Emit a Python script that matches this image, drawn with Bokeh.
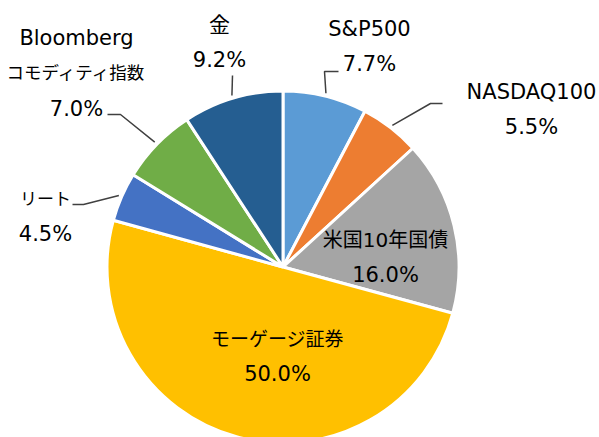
import math
from bokeh.plotting import figure
from bokeh.models import Range1d, ColumnDataSource
from bokeh.core.properties import value
from bokeh.embed import file_html
from bokeh.resources import INLINE

# ---- data (clockwise from 12 o'clock) ----
categories = ["S&P500", "NASDAQ100", "米国10年国債", "モーゲージ証券", "リート", "Bloomberg コモディティ指数", "金"]
name_lines = [["S&P500"], ["NASDAQ100"], ["米国10年国債"], ["モーゲージ証券"], ["リート"], ["Bloomberg", "コモディティ指数"], ["金"]]
shares = [7.7, 5.5, 16.0, 50.0, 4.5, 7.0, 9.2]
colors = ["#5B9BD5", "#ED7D31", "#A5A5A5", "#FFC000", "#4472C4", "#70AD47", "#255E91"]

# ---- layout (page pixels; converted to offsets from the pie centre, y up) ----
CX, CY = 282.5, 266.5          # pie centre in page pixels
R = 176
W, H = 599, 437
def px(X):
    return X - CX
def py(Y):
    return CY - Y

# label block: centre x, y of first line (page px)
label_pos = [(369, 28), (531, 91), (385, 239), (277, 338), (45, 198), (76, 37), (219, 24)]
# font size for each name line
name_sizes = [["21px"], ["21px"], ["20px"], ["19px"], ["17px"], ["21px", "17.5px"], ["21px"]]
LINE_STEP = 35.5
# leader: (elbow, end) in page px or None
leaders = [((324, 71), (338, 71)),
           ((430, 103), (442, 103)),
           None,
           None,
           ((83, 204), (72, 204)),
           ((120, 114), (107, 114)),
           ((232, 75), (232, 75))]

total = sum(shares)
starts, ends, mids = [], [], []
c = 0.0
for v in shares:
    c0, c1 = c, c + v
    starts.append(math.pi / 2 - 2 * math.pi * c1 / total)
    ends.append(math.pi / 2 - 2 * math.pi * c0 / total)
    mids.append(math.pi / 2 - 2 * math.pi * (c0 + c1) / 2 / total)
    c = c1

p = figure(width=W, height=H, output_backend="svg", toolbar_location=None,
           x_range=Range1d(px(0), px(W)), y_range=Range1d(py(H), py(0)),
           min_border=0, outline_line_color=None, background_fill_color="white",
           border_fill_color="white")
p.axis.visible = False
p.grid.visible = False

src = ColumnDataSource(dict(start=starts, end=ends, color=colors, cat=categories))
p.wedge(x=0, y=0, radius=R, start_angle="start", end_angle="end", fill_color="color",
        line_color="white", line_width=3, source=src)

# leader lines
lx, ly = [], []
for m, ld in zip(mids, leaders):
    if ld is None:
        continue
    sx, sy = (R + 3) * math.cos(m), (R + 3) * math.sin(m)
    (ex, ey), (tx_, ty_) = ld
    lx.append([sx, px(ex), px(tx_)])
    ly.append([sy, py(ey), py(ty_)])
p.multi_line(xs=lx, ys=ly, line_color="#404040", line_width=1.5)

# labels
tx, ty, tt, ts = [], [], [], []
for lines, sizes, v, (X, Y) in zip(name_lines, name_sizes, shares, label_pos):
    allines = lines + [f"{v:.1f}%"]
    allsizes = sizes + ["21px"]
    for i, (s, fs) in enumerate(zip(allines, allsizes)):
        tx.append(px(X))
        ty.append(py(Y + i * LINE_STEP))
        tt.append(s)
        ts.append(fs)
tsrc = ColumnDataSource(dict(x=tx, y=ty, text=tt, size=ts))
p.text(x="x", y="y", text="text", text_font_size="size", source=tsrc,
       text_align="center", text_baseline="middle",
       text_font=value("'DejaVu Sans', 'Noto Sans CJK JP'"), text_color="#000000")

open("out.html", "w").write(file_html(p, INLINE))
